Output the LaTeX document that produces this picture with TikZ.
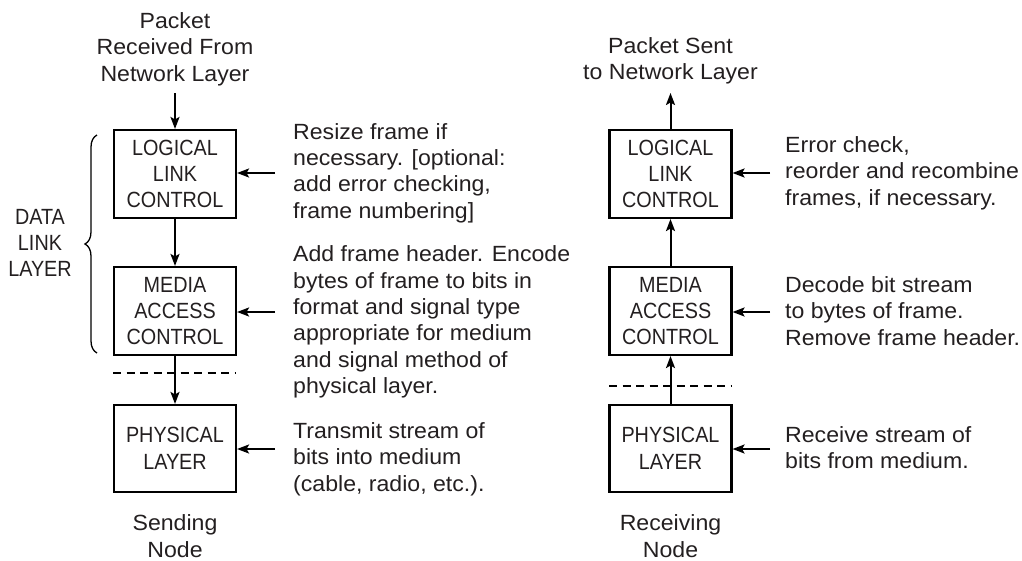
\documentclass[tikz,border=0pt]{standalone}
\usepackage{fontspec}
\setmainfont{Liberation Sans}[FakeStretch=1.05]
\newfontfamily\capsfont{Liberation Sans}[FakeStretch=0.9]
\usetikzlibrary{arrows.meta,decorations.pathreplacing}
\definecolor{ink}{HTML}{231F20}
\begin{document}
\begin{tikzpicture}[x=1pt,y=-1pt,
  every node/.style={text=ink,font=\fontsize{22}{26.4}\selectfont},
  layerbox/.style={draw=black,line width=2.1pt,minimum width=122pt,align=center,inner sep=0pt,font=\capsfont\fontsize{22}{26.4}\selectfont},
  txt/.style={align=left,anchor=west,inner sep=0pt},
  ctxt/.style={align=center,inner sep=0pt},
  flow/.style={draw=black,line width=2pt,-{Stealth[length=12pt,width=9pt,inset=2.5pt]}},
  sep/.style={draw=black,line width=1.6pt,dash pattern=on 8pt off 5.5pt}]
\useasboundingbox (0,0) rectangle (1022,560);

% ---- Sending node ----
\node[ctxt] (pkt1) at (175,49) {Packet\\Received From\\Network Layer};
\node[layerbox,minimum height=88pt] (llc1) at (175,174) {LOGICAL\\LINK\\CONTROL};
\node[layerbox,minimum height=88pt] (mac1) at (175,311) {MEDIA\\ACCESS\\CONTROL};
\node[layerbox,minimum height=87pt] (phy1) at (175,448.5) {PHYSICAL\\LAYER};
\node[ctxt] (snd) at (175,536) {Sending\\Node};

\coordinate (top1) at (175,93);
\draw[flow] (top1) -- (llc1.north);
\draw[flow] (llc1) -- (mac1);
\draw[flow] (mac1) -- (phy1);
\coordinate (d1a) at (113,373);
\coordinate (d1b) at (236,373);
\draw[sep] (d1a) -- (d1b);

\coordinate (a1) at (275,173);
\coordinate (a2) at (275,312);
\coordinate (a3) at (275,449);
\draw[flow] (a1) -- (a1 -| llc1.east);
\draw[flow] (a2) -- (a2 -| mac1.east);
\draw[flow] (a3) -- (a3 -| phy1.east);

\node[txt] (t1) at (293,173) {Resize frame if\\necessary. [optional:\\add error checking,\\frame numbering]};
\node[txt] (t2) at (293,322) {Add frame header. Encode\\bytes of frame to bits in\\format and signal type\\appropriate for medium\\and signal method of\\physical layer.};
\node[txt] (t3) at (293,459) {Transmit stream of\\bits into medium\\(cable, radio, etc.).};

\coordinate (b1) at (97,353);
\coordinate (b2) at (97,135);
\draw[black,line width=1.3pt,decorate,decoration={brace,amplitude=12pt}] (b1) -- (b2);
\node[ctxt,font=\capsfont\fontsize{22}{26.4}\selectfont] (dll) at (40,243) {DATA\\LINK\\LAYER};

% ---- Receiving node ----
\node[ctxt] (pkt2) at (670.5,61) {Packet Sent\\to Network Layer};
\node[layerbox,minimum height=88pt] (llc2) at (670.5,174) {LOGICAL\\LINK\\CONTROL};
\node[layerbox,minimum height=88pt] (mac2) at (670.5,311) {MEDIA\\ACCESS\\CONTROL};
\node[layerbox,minimum height=87pt] (phy2) at (670.5,448.5) {PHYSICAL\\LAYER};
\node[ctxt] (rcv) at (670.5,536) {Receiving\\Node};

\coordinate (top2) at (670.5,93);
\draw[flow] (llc2.north) -- (top2);
\draw[flow] (mac2) -- (llc2);
\draw[flow] (phy2) -- (mac2);
\coordinate (d2a) at (609,386);
\coordinate (d2b) at (732,386);
\draw[sep] (d2a) -- (d2b);

\coordinate (r1a) at (770,173);
\coordinate (r2a) at (770,312);
\coordinate (r3a) at (770,449);
\draw[flow] (r1a) -- (r1a -| llc2.east);
\draw[flow] (r2a) -- (r2a -| mac2.east);
\draw[flow] (r3a) -- (r3a -| phy2.east);

\node[txt] (r1) at (785,173) {Error check,\\reorder and recombine\\frames, if necessary.};
\node[txt] (r2) at (785,311) {Decode bit stream\\to bytes of frame.\\Remove frame header.};
\node[txt] (r3) at (785,447.5) {Receive stream of\\bits from medium.};
\end{tikzpicture}
\end{document}
